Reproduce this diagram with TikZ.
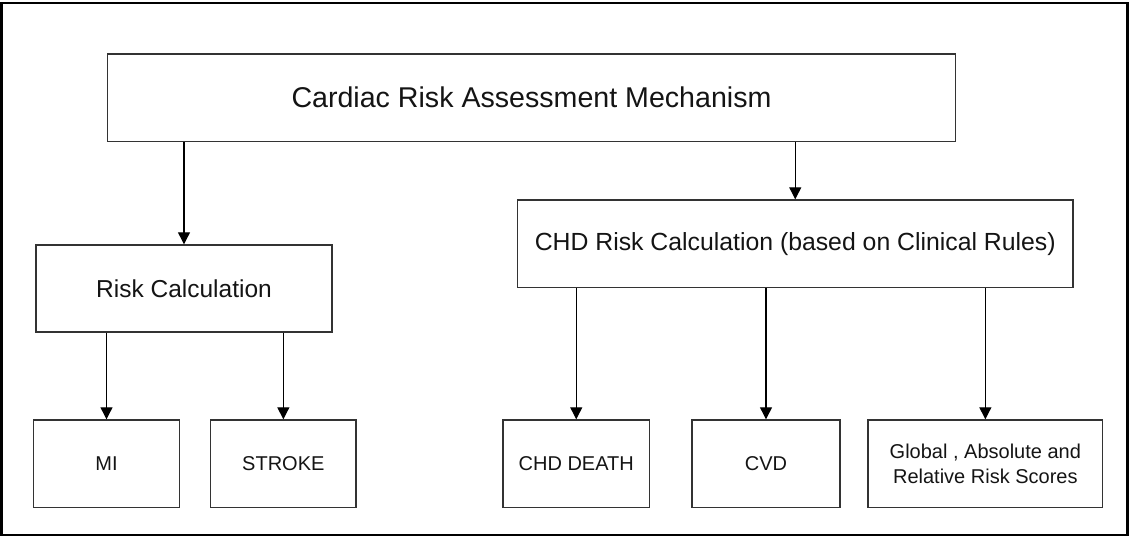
\documentclass[tikz,border=0pt]{standalone}
\usepackage{fontspec}
\setmainfont{Liberation Sans}
\usetikzlibrary{arrows.meta}
\definecolor{edge}{HTML}{333333}
\definecolor{ink}{HTML}{141414}
\begin{document}
\begin{tikzpicture}[x=1pt,y=-1pt,
  box/.style={draw=edge, line width=1.4pt, rectangle, inner sep=0pt, align=center, text=ink},
  link/.style={draw=black, line width=1.2pt, -{Triangle[length=12pt,width=12pt]}}]
  \useasboundingbox (0,0) rectangle (1129,537);
  % outer frame
  \draw[line width=2.4pt] (1.5,3) rectangle (1127.5,535);

  % top level
  \node[box, minimum width=848pt, minimum height=87.5pt, font=\fontsize{28.6}{34}\selectfont]
    (top) at (531.5,97.75) {Cardiac Risk Assessment Mechanism};

  % second level
  \node[box, minimum width=296pt, minimum height=87pt, font=\fontsize{24.5}{30}\selectfont]
    (risk) at (184,288.5) {Risk Calculation};
  \node[box, minimum width=555.5pt, minimum height=87.7pt, font=\fontsize{24.8}{30}\selectfont]
    (chd) at (795.25,243.85) {CHD Risk Calculation (based on Clinical Rules)};

  % outcomes
  \tikzset{leaf/.style={box, minimum height=87.7pt, font=\fontsize{20}{25}\selectfont}}
  \node[leaf, minimum width=146pt] (mi) at (106.5,463.85) {MI};
  \node[leaf, minimum width=145.3pt] (stroke) at (283.35,463.85) {STROKE};
  \node[leaf, minimum width=146.5pt] (death) at (576.25,463.85) {CHD DEATH};
  \node[leaf, minimum width=148pt] (cvd) at (766,463.85) {CVD};
  \node[leaf, minimum width=234.7pt] (glob) at (985.35,463.85) {Global , Absolute and\\Relative Risk Scores};

  % connectors
  \draw[link] (top.south -| risk.north) -- (risk.north);
  \draw[link] (top.south -| chd.north) -- (chd.north);
  \draw[link] (risk.south -| mi.north) -- (mi.north);
  \draw[link] (risk.south -| stroke.north) -- (stroke.north);
  \draw[link] (chd.south -| death.north) -- (death.north);
  \draw[link] (chd.south -| cvd.north) -- (cvd.north);
  \draw[link] (chd.south -| glob.north) -- (glob.north);
\end{tikzpicture}
\end{document}
